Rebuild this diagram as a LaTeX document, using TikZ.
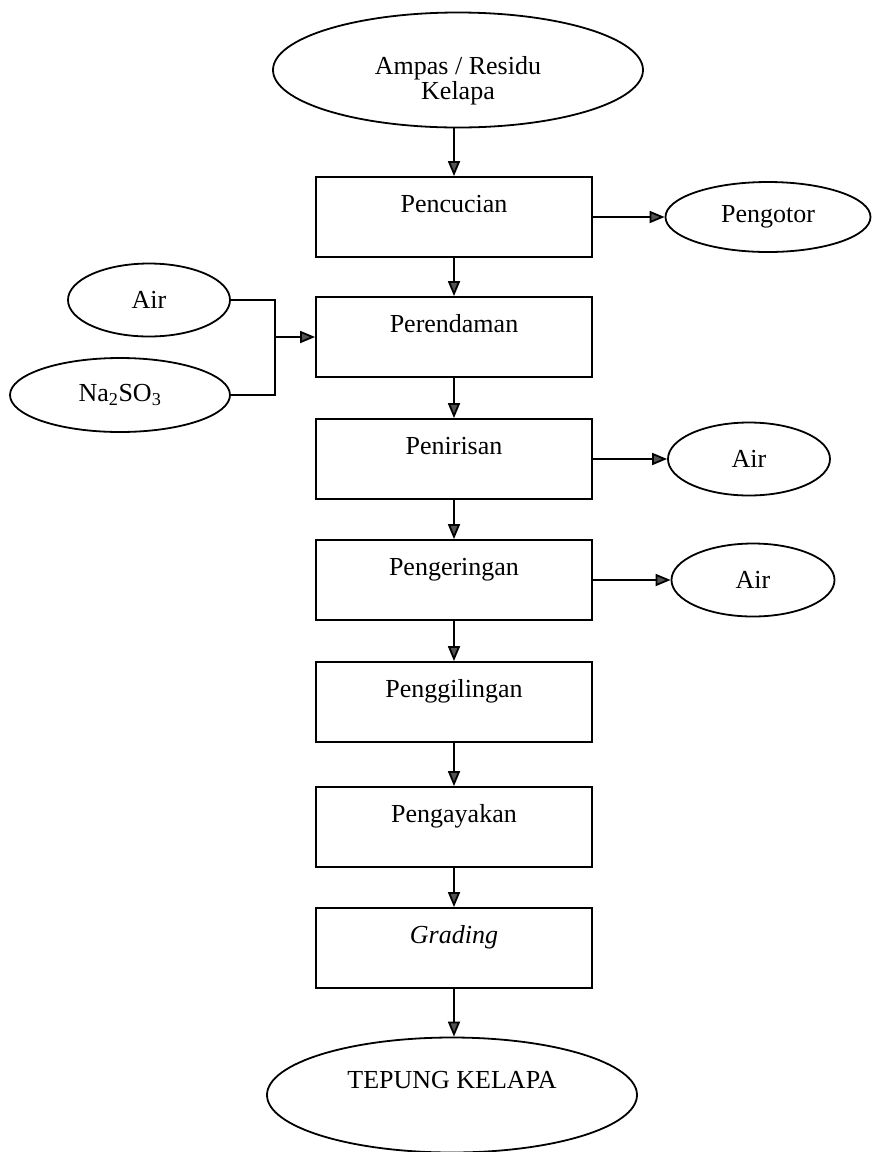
\documentclass[tikz,border=0pt]{standalone}
\usepackage{fontspec}
\setmainfont{Liberation Serif}
\usetikzlibrary{arrows.meta, shapes.geometric, positioning, calc}

\begin{document}
\begin{tikzpicture}[x=1pt, y=-1pt,
  font=\fontsize{26}{29}\selectfont,
  proc/.style={draw, line width=1.8pt, minimum width=276pt, inner xsep=0pt, inner ysep=9pt, text height=26pt, text depth=36pt},
  oval/.style={draw, ellipse, line width=1.8pt, inner sep=0pt},
  flow/.style={line width=1.8pt, -{Triangle[length=15pt, width=12pt, fill=gray!65!black]}},
  link/.style={line width=1.8pt}]

\useasboundingbox (0,0) rectangle (871,1152);

% Bahan baku
\node[oval, minimum width=370pt, minimum height=115pt, align=center,
  font=\fontsize{26}{25}\selectfont, text height=65pt, text depth=6pt] (ampas) at (458,70) {Ampas / Residu\\Kelapa};

% Proses
\node[proc] (cuci) at (454,217) {Pencucian};
\node[proc] (rendam) at (454,337) {Perendaman};
\node[proc] (tiris) at (454,459) {Penirisan};
\node[proc] (kering) at (454,580) {Pengeringan};
\node[proc] (giling) at (454,702) {Penggilingan};
\node[proc] (ayak) at (454,827) {Pengayakan};
\node[proc] (grade) at (454,948) {\textit{Grading}};

% Produk
\node[oval, minimum width=370pt, minimum height=115pt, text depth=30pt] (tepung) at (452,1095) {TEPUNG KELAPA};

% Masuk / keluar
\node[oval, minimum width=205pt, minimum height=70pt] (kotor) at (768,217) {Pengotor};
\node[oval, minimum width=162pt, minimum height=73pt] (airA) at (149,300) {Air};
\node[oval, minimum width=220pt, minimum height=74pt] (natrium) at (120,395) {Na\textsubscript{2}SO\textsubscript{3}};
\node[oval, minimum width=162pt, minimum height=73pt] (airB) at (749,459) {Air};
\node[oval, minimum width=163pt, minimum height=73pt] (airC) at (753,580) {Air};

% Aliran utama
\draw[flow] (ampas.south -| cuci.north) -- (cuci.north);
\foreach \a/\b in {cuci/rendam, rendam/tiris, tiris/kering, kering/giling, giling/ayak, ayak/grade}
  \draw[flow] (\a) -- (\b);
\draw[flow] (grade.south) -- (grade.south |- tepung.north);

% Aliran samping
\draw[flow] (cuci) -- (kotor);
\draw[flow] (tiris) -- (airB);
\draw[flow] (kering) -- (airC);

\coordinate (gabung) at (275,337);
\draw[link] (airA.east) -| (gabung);
\draw[link] (natrium.east) -| (gabung);
\draw[flow] (gabung) -- (rendam.west);

\end{tikzpicture}
\end{document}
